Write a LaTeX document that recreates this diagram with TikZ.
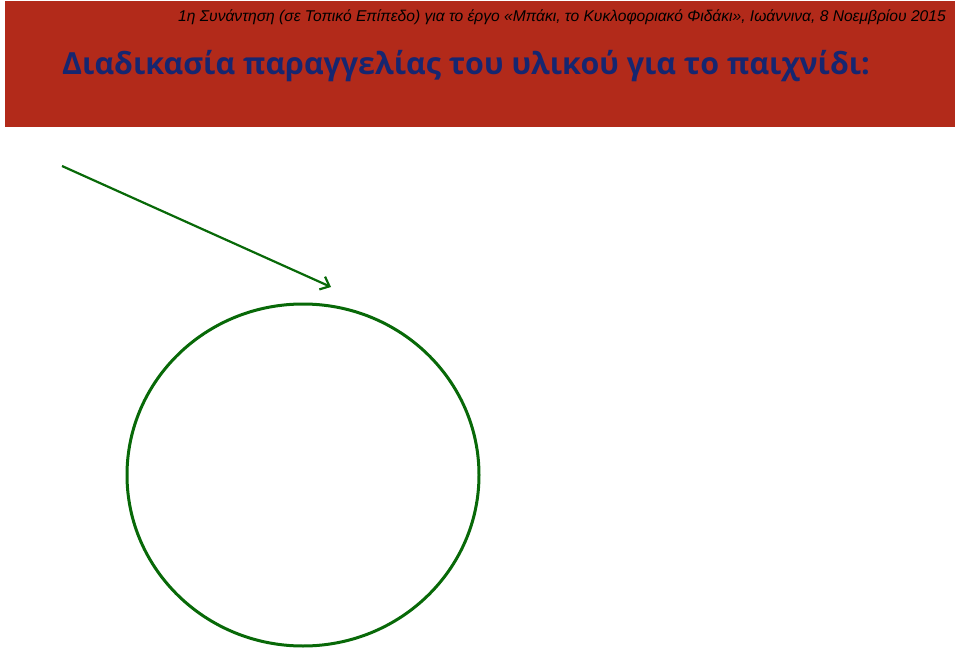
\documentclass[tikz,border=0pt]{standalone}
\usepackage{fontspec}
\usepackage{tikz}
\usetikzlibrary{shapes.geometric}
\usetikzlibrary{arrows.meta}
\newfontfamily\titlefont{Open Sans}
\newfontfamily\subfont{Liberation Sans}
\definecolor{bannerred}{RGB}{178,42,26}
\definecolor{titleblue}{RGB}{22,38,112}
\definecolor{linegreen}{RGB}{8,105,8}

\begin{document}
\begin{tikzpicture}[x=1pt,y=-1pt,banner/.style={fill=bannerred, draw=none},ring/.style={ellipse, draw=linegreen, line width=3pt, minimum width=352pt, minimum height=342pt}]
			\useasboundingbox (0,0) rectangle (959,650);
			% Nodes
			\fill[bannerred] (5,1) rectangle (955,127);
			\node[anchor=base east, inner sep=0pt, font=\subfont\itshape\fontsize{15.6}{18}\selectfont] (sub) at (946,22) {1η Συνάντηση (σε Τοπικό Επίπεδο) για το έργο «Μπάκι, το Κυκλοφοριακό Φιδάκι», Ιωάννινα, 8 Νοεμβρίου 2015};
			\node[anchor=base west, inner sep=0pt, text=titleblue, font=\titlefont\bfseries\fontsize{30.4}{38}\selectfont] (title) at (62,75) {Διαδικασία παραγγελίας του υλικού για το παιχνίδι:};
			\node[ring] (circ) at (303,475) {};
			
			\coordinate (start) at (62,166);
			\coordinate (tip) at (331,287);
			
			\draw[-{Straight Barb[length=8pt,width=14pt]}, linegreen, line width=2.2pt] (start) -- (tip);
			
		\end{tikzpicture}
\end{document}
